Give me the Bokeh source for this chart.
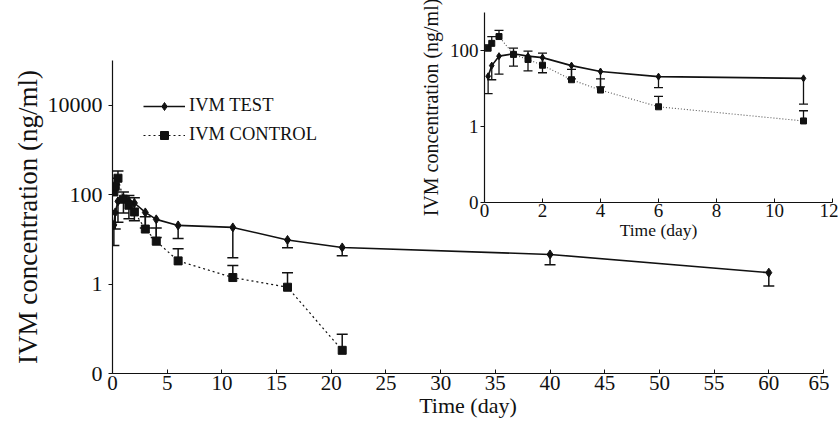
from bokeh.plotting import figure
from bokeh.models import (Range1d, FixedTicker, Whisker, TeeHead, ColumnDataSource,
                          Legend, LegendItem, NumeralTickFormatter)
from bokeh.layouts import column
from bokeh.embed import file_html
from bokeh.resources import INLINE

# ---- data ----
t_test = [0.125, 0.25, 0.5, 1, 1.5, 2, 3, 4, 6, 11, 16, 21, 40, 60]
test = [21, 40, 71, 82, 71, 65, 40, 28, 20.5, 18.5, 9.7, 6.6, 4.6, 1.8]
test_low = [7.3, 17, 24, 39, 29, 26, 18, 11, 10.5, 3.9, 6.5, 4.3, 2.7, 0.9]

t_ctrl = [0.125, 0.25, 0.5, 1, 1.5, 2, 3, 4, 6, 11, 16, 21]
ctrl = [115, 154, 233, 79, 58, 41, 17, 9.1, 3.3, 1.4, 0.85, 0.033]
ctrl_up = [140, 233, 340, 115, 96, 85, 32, 18, 6.2, 2.6, 1.8, 0.075]

inset_max_day = 11  # inset shows the first 11 days

main_yticks = [0.01, 1, 100, 10000]
inset_yticks = [0.01, 1, 100]
main_xticks = list(range(0, 70, 5))
inset_xticks = list(range(0, 14, 2))

FONT = "Liberation Serif"
BLACK = "#111111"


def style_axes(p, xtick_size, ytick_size, xtitle_size, ytitle_size,
               xstand, ystand, xls, yls):
    for ax, tsz, ttl, st, ls in ((p.xaxis[0], xtick_size, xtitle_size, xstand, xls),
                                 (p.yaxis[0], ytick_size, ytitle_size, ystand, yls)):
        ax.axis_line_color = BLACK
        ax.axis_line_width = 1.2
        ax.minor_tick_line_color = None
        ax.major_tick_line_color = BLACK
        ax.major_label_text_font = FONT
        ax.major_label_text_font_size = tsz
        ax.major_label_text_color = BLACK
        ax.axis_label_text_font = FONT
        ax.axis_label_text_font_size = ttl
        ax.axis_label_text_font_style = "normal"
        ax.axis_label_text_color = BLACK
        ax.major_label_standoff = ls
        ax.axis_label_standoff = st
    p.xaxis.major_tick_in = 4
    p.xaxis.major_tick_out = 0
    p.yaxis.major_tick_in = 0
    p.yaxis.major_tick_out = 4
    p.xgrid.visible = False
    p.ygrid.visible = False
    p.outline_line_color = None


# ---------------- inset ----------------
it = [t for t in t_test if t <= inset_max_day]
n_it = len(it)
ic = [t for t in t_ctrl if t <= inset_max_day]
n_ic = len(ic)

inset = figure(width=458, height=242, y_axis_type="log",
               x_range=Range1d(0, 12), y_range=Range1d(0.01, 1000),
               output_backend="svg", toolbar_location=None,
               min_border_left=104, min_border_right=6, min_border_top=12,
               min_border_bottom=38, margin=(0, 0, 0, 380),
               background_fill_alpha=0, border_fill_alpha=0)
inset.xaxis.axis_label = "Time (day)"
inset.yaxis.axis_label = "IVM concentration (ng/ml)"
inset.xaxis.ticker = FixedTicker(ticks=inset_xticks)
inset.yaxis.ticker = FixedTicker(ticks=inset_yticks)
inset.yaxis.formatter = NumeralTickFormatter(format="0")
style_axes(inset, "19px", "19px", "17.5px", "20px", 0, 5, 1, 2)

src_it = ColumnDataSource(dict(t=it, v=test[:n_it], lo=test_low[:n_it]))
src_ic = ColumnDataSource(dict(t=ic, v=ctrl[:n_ic], up=ctrl_up[:n_ic]))
inset.add_layout(Whisker(source=src_it, base="t", upper="v", lower="lo",
                         line_color=BLACK, line_width=1.3, upper_head=None,
                         lower_head=TeeHead(size=9, line_color=BLACK, line_width=1.3)))
inset.add_layout(Whisker(source=src_ic, base="t", upper="up", lower="v",
                         line_color=BLACK, line_width=1.3, lower_head=None,
                         upper_head=TeeHead(size=9, line_color=BLACK, line_width=1.3)))
inset.line("t", "v", source=src_ic, line_color="#555555", line_width=1.1, line_dash="1 2")
inset.line("t", "v", source=src_it, line_color=BLACK, line_width=1.6)
inset.scatter("t", "v", source=src_it, marker="diamond", size=7, color=BLACK)
inset.scatter("t", "v", source=src_ic, marker="square", size=6, color=BLACK)

# ---------------- main ----------------
p = figure(width=821, height=375, y_axis_type="log",
           x_range=Range1d(0, 65), y_range=Range1d(0.01, 100000),
           output_backend="svg", toolbar_location=None,
           min_border_left=104, min_border_right=6, min_border_top=10,
           min_border_bottom=52, margin=(-192, 0, 0, 8),
           background_fill_alpha=0, border_fill_alpha=0)
p.xaxis.axis_label = "Time (day)"
p.yaxis.axis_label = "IVM concentration (ng/ml)"
p.xaxis.ticker = FixedTicker(ticks=main_xticks)
p.yaxis.ticker = FixedTicker(ticks=main_yticks)
p.yaxis.formatter = NumeralTickFormatter(format="0")
style_axes(p, "21px", "22px", "22px", "27px", 0, 2, 2, 6)

src_t = ColumnDataSource(dict(t=t_test, v=test, lo=test_low))
src_c = ColumnDataSource(dict(t=t_ctrl, v=ctrl, up=ctrl_up))
p.add_layout(Whisker(source=src_t, base="t", upper="v", lower="lo",
                     line_color=BLACK, line_width=1.5, upper_head=None,
                     lower_head=TeeHead(size=11, line_color=BLACK, line_width=1.5)))
p.add_layout(Whisker(source=src_c, base="t", upper="up", lower="v",
                     line_color=BLACK, line_width=1.5, lower_head=None,
                     upper_head=TeeHead(size=11, line_color=BLACK, line_width=1.5)))
lc = p.line("t", "v", source=src_c, line_color=BLACK, line_width=1.2, line_dash="2 3")
lt = p.line("t", "v", source=src_t, line_color=BLACK, line_width=1.6)
mt = p.scatter("t", "v", source=src_t, marker="diamond", size=9, color=BLACK)
mc = p.scatter("t", "v", source=src_c, marker="square", size=8, color=BLACK)

legend = Legend(items=[LegendItem(label="IVM TEST", renderers=[lt, mt]),
                       LegendItem(label="IVM CONTROL", renderers=[lc, mc])],
                location=(31, 228), orientation="vertical",
                label_text_font=FONT, label_text_font_size="18.5px",
                label_text_color=BLACK, glyph_width=42, glyph_height=20,
                label_height=20, spacing=8, padding=0, margin=0,
                label_standoff=4, border_line_color=None,
                background_fill_alpha=0)
p.add_layout(legend)

layout = column(inset, p, spacing=0)
open("out.html", "w").write(file_html(layout, INLINE))
